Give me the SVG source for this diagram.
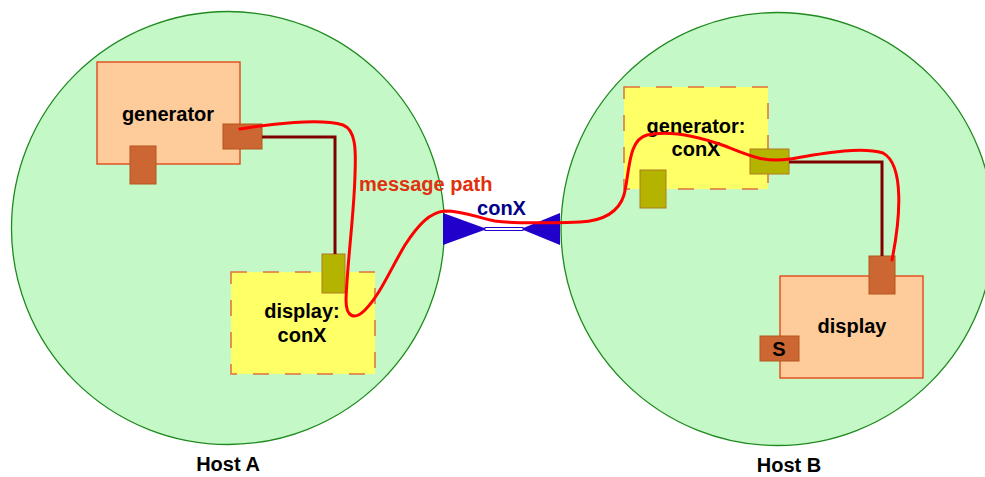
<svg xmlns="http://www.w3.org/2000/svg" width="985" height="477" viewBox="0 0 985 477">
<style>
text{font-family:"Liberation Sans",Arial,sans-serif;font-weight:bold;font-size:20px;text-anchor:middle;fill:#000}
.host{fill:#c4f8c6;stroke:#1f8a1f;stroke-width:1.3}
.comp{fill:#fecb9a;stroke:#e23c12;stroke-width:1.3}
.conx{fill:#ffff66;stroke:#e0703a;stroke-width:1.5;stroke-dasharray:16 16}
.port{fill:#cc6633;stroke:#b5561c;stroke-width:1}
.oport{fill:#b3b300;stroke:#b07a20;stroke-width:1}
.wire{fill:none;stroke:#800000;stroke-width:3}
.msg{fill:none;stroke:#ff0000;stroke-width:3;stroke-linecap:round}
.bow{fill:#2200cc}
</style>
<rect width="985" height="477" fill="#fff"/>
<g id="hostA">
<circle class="host" cx="228" cy="228" r="216.5"/>
<text x="228" y="471">Host A</text>
</g>
<g id="hostB">
<circle class="host" cx="777.5" cy="229" r="216.5"/>
<text x="789" y="472">Host B</text>
</g>
<g id="generatorA">
<rect class="comp" x="97" y="62" width="143" height="102"/>
<text x="168" y="121">generator</text>
<rect class="port" x="130" y="146" width="26" height="38"/>
<rect class="port" x="223" y="124" width="39" height="25"/>
</g>
<g id="displayA">
<rect class="conx" x="231" y="272" width="144" height="102"/>
<text x="302" y="318">display:</text>
<text x="302" y="342">conX</text>
<rect class="oport" x="322" y="254" width="23" height="39"/>
</g>
<g id="generatorB">
<rect class="conx" x="624" y="87" width="144" height="102"/>
<text x="696" y="133">generator:</text>
<text x="696" y="156">conX</text>
<rect class="oport" x="640" y="170" width="26" height="38"/>
<rect class="oport" x="750" y="149" width="39" height="25"/>
</g>
<g id="displayB">
<rect class="comp" x="780" y="276" width="143" height="102"/>
<text x="852" y="333">display</text>
<rect class="port" x="869" y="256" width="26" height="38"/>
<rect class="port" x="760" y="336" width="39" height="25"/>
<text x="779" y="356">S</text>
</g>
<g id="conX">
<polygon class="bow" points="443,213 443,245 487,229"/>
<polygon class="bow" points="560,213 560,245 521,229"/>
<rect x="485" y="227.5" width="38" height="3" fill="#fff" stroke="#2200cc" stroke-width="1"/>
<text x="501.5" y="215" style="fill:#000088">conX</text>
</g>
<g id="connectors">
<polyline class="wire" points="262,137 335,137 335,254"/>
<polyline class="wire" points="789,162 882,162 882,256"/>
<path class="msg" d="M240,129 C270,124 320,118 343,125 C356,130 356,150 355,175 C354,215 347,265 346,300 C346,318 355,320 365,310 C380,295 390,270 405,245 C418,225 430,212 445,211 C465,211 478,218 495,221 C515,224 550,223 580,222 C600,221 618,214 624,195 C630,170 628,140 647,135 C670,130 700,137 725,146 C750,156 765,163 790,159 C820,154 860,146 883,153 C905,165 900,220 892,260"/>
<text x="359" y="191" style="fill:#e0300e;text-anchor:start">message path</text>
</g>
</svg>
